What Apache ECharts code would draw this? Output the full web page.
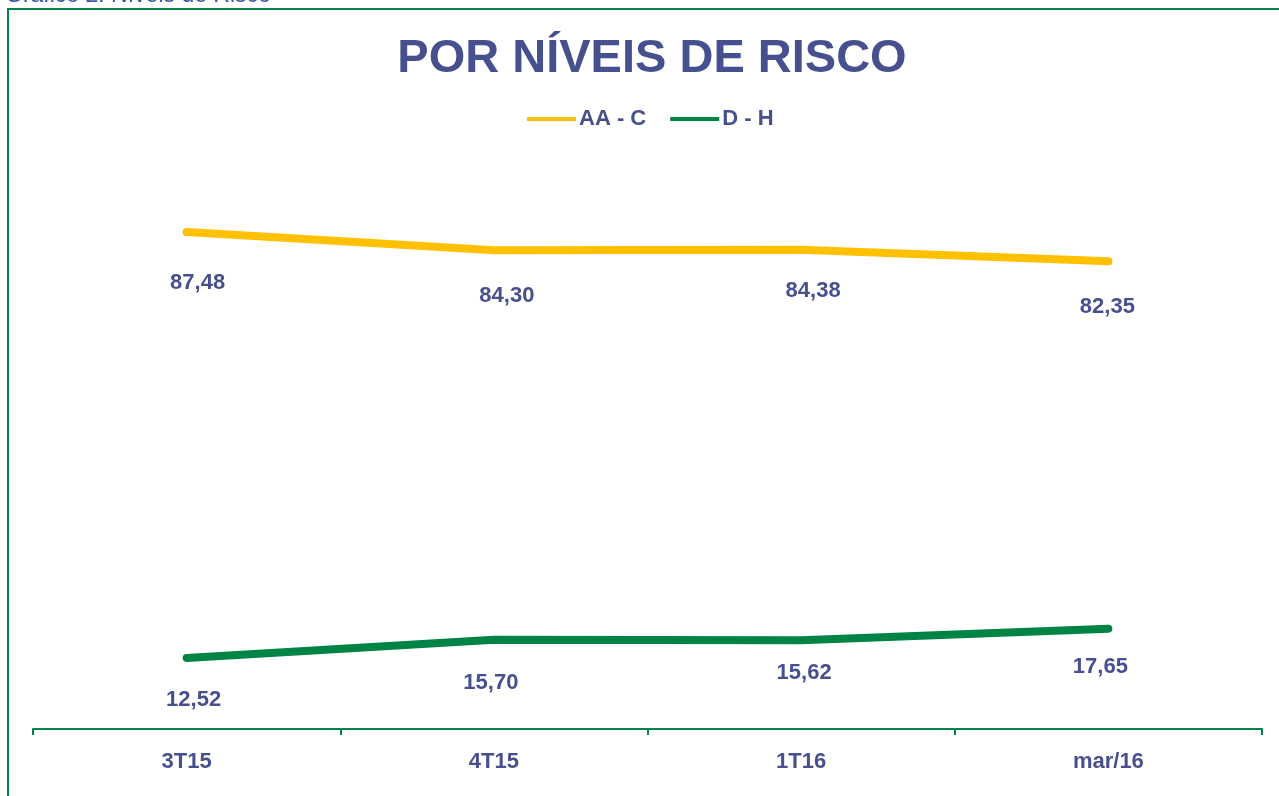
<!DOCTYPE html>
<html>
<head>
<meta charset="utf-8">
<script src="https://cdn.jsdelivr.net/npm/echarts@6/dist/echarts.min.js"></script>
<style>
  html, body { margin: 0; padding: 0; background: #fff; }
  #chart { width: 1279px; height: 796px; }
</style>
</head>
<body>
<div id="chart"></div>
<script>
// dados do gráfico
var periodos = ['3T15', '4T15', '1T16', 'mar/16'];
var serieAAC = [87.48, 84.30, 84.38, 82.35];
var serieDH = [12.52, 15.70, 15.62, 17.65];
var nomesSeries = ['AA - C', 'D - H'];

// ajuste manual dos rótulos (como no original do Excel), [dx, dy] em px
var ajusteAAC = [[11, 8], [13, 3], [12, -1], [-1, 3]];
var ajusteDH = [[7, 0], [-3, 1], [3, -10], [-8, -4]];

var azul = '#46508f';
var amarelo = '#ffc000';
var verde = '#008445';
var fonte = 'Liberation Sans, Arial, sans-serif';

function formataValor(p) {
    return p.value.toFixed(2).replace('.', ',');
}

// junta valor + deslocamento do rótulo
function montaPontos(valores, ajustes) {
    return valores.map(function (v, i) {
        return { value: v, label: { offset: ajustes[i] } };
    });
}

function rotulo() {
    return {
        show: true,
        position: 'bottom',
        distance: 31,
        formatter: formataValor,
        fontFamily: fonte,
        fontSize: 22,
        fontWeight: 'bold',
        color: azul
    };
}

let riscoChart = echarts.init(document.getElementById('chart'));

let riscoOptions = {
    backgroundColor: '#fff',
    animation: false,
    title: {
        text: 'POR NÍVEIS DE RISCO',
        left: 647,
        textAlign: 'center',
        top: 31,
        textStyle: {
            fontFamily: fonte,
            fontSize: 47,
            fontWeight: 'bold',
            color: azul
        }
    },
    legend: {
        data: nomesSeries,
        left: 522,
        top: 103,
        icon: 'rect',
        itemWidth: 49,
        itemHeight: 4,
        itemGap: 24,
        textStyle: {
            fontFamily: fonte,
            fontSize: 22,
            fontWeight: 'bold',
            color: azul,
            padding: [0, 0, 0, -2]
        }
    },
    grid: {
        left: 33,
        right: 17,
        top: 161,
        bottom: 67
    },
    xAxis: {
        type: 'category',
        data: periodos,
        boundaryGap: true,
        axisLine: { lineStyle: { color: verde, width: 2 } },
        axisTick: { show: true, length: 6, lineStyle: { color: verde, width: 2 } },
        axisLabel: {
            margin: 22,
            fontFamily: fonte,
            fontSize: 22,
            fontWeight: 'bold',
            color: azul
        }
    },
    yAxis: {
        type: 'value',
        min: 0,
        max: 100,
        show: false,
        splitLine: { show: false }
    },
    graphic: [
        {
            type: 'rect',
            shape: { x: 8, y: 9, width: 1400, height: 900 },
            style: { fill: 'none', stroke: verde, lineWidth: 2 },
            silent: true
        },
        {
            type: 'text',
            x: 5,
            y: 7,
            style: {
                text: 'Gráfico 2: Níveis de Risco',
                font: '23px ' + fonte,
                fill: '#3b55a3',
                verticalAlign: 'bottom'
            }
        }
    ],
    series: [
        {
            name: nomesSeries[0],
            type: 'line',
            data: montaPontos(serieAAC, ajusteAAC),
            color: amarelo,
            symbol: 'circle',
            symbolSize: 1,
            lineStyle: { width: 8, color: amarelo, cap: 'round', join: 'round' },
            label: rotulo()
        },
        {
            name: nomesSeries[1],
            type: 'line',
            data: montaPontos(serieDH, ajusteDH),
            color: verde,
            symbol: 'circle',
            symbolSize: 1,
            lineStyle: { width: 8, color: verde, cap: 'round', join: 'round' },
            label: rotulo()
        }
    ]
};

riscoChart.setOption(riscoOptions);
</script>
</body>
</html>
